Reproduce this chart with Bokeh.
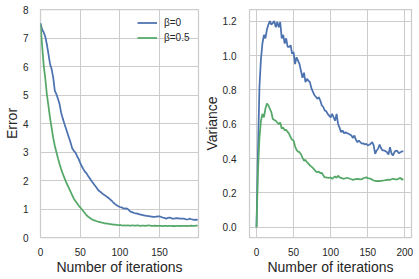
from bokeh.plotting import figure
from bokeh.layouts import row
from bokeh.models import Range1d, FixedTicker, PrintfTickFormatter
from bokeh.embed import file_html
from bokeh.resources import INLINE

iterations = list(range(0, 200, 2))

error_b0 = [7.52, 7.30, 7.20, 7.05, 6.78, 6.44, 6.09, 5.91, 5.62, 5.15,
            5.03, 4.87, 4.68, 4.38, 4.18, 4.00, 3.83, 3.66, 3.49, 3.32,
            3.12, 3.04, 2.98, 2.86, 2.76, 2.62, 2.50, 2.40, 2.31, 2.25,
            2.16, 2.08, 1.99, 1.92, 1.84, 1.77, 1.69, 1.63, 1.59, 1.54,
            1.50, 1.46, 1.42, 1.38, 1.33, 1.28, 1.22, 1.17, 1.13, 1.10,
            1.07, 1.06, 1.03, 1.01, 1.02, 1.00, 0.94, 0.90, 0.88, 0.86,
            0.85, 0.84, 0.82, 0.80, 0.79, 0.78, 0.77, 0.755, 0.75, 0.74,
            0.73, 0.72, 0.72, 0.73, 0.74, 0.74, 0.72, 0.70, 0.69, 0.66,
            0.68, 0.70, 0.69, 0.66, 0.66, 0.67, 0.68, 0.67, 0.66, 0.66,
            0.66, 0.65, 0.63, 0.64, 0.66, 0.64, 0.63, 0.62, 0.63, 0.62]

error_b05 = [7.50, 6.75, 6.05, 5.58, 5.03, 4.62, 4.20, 3.85, 3.50, 3.22,
             3.00, 2.78, 2.58, 2.40, 2.24, 2.10, 1.96, 1.84, 1.72, 1.60,
             1.48, 1.36, 1.28, 1.20, 1.12, 1.06, 0.99, 0.92, 0.85, 0.78,
             0.73, 0.69, 0.65, 0.62, 0.60, 0.58, 0.56, 0.55, 0.53, 0.52,
             0.50, 0.50, 0.49, 0.48, 0.47, 0.46, 0.45, 0.45, 0.44, 0.43,
             0.44, 0.43, 0.42, 0.43, 0.42, 0.43, 0.42, 0.42, 0.43, 0.42,
             0.42, 0.43, 0.42, 0.41, 0.42, 0.42, 0.41, 0.42, 0.43, 0.42,
             0.41, 0.41, 0.42, 0.41, 0.41, 0.41, 0.41, 0.40, 0.41, 0.41,
             0.40, 0.41, 0.41, 0.40, 0.41, 0.40, 0.41, 0.41, 0.40, 0.41,
             0.41, 0.41, 0.40, 0.41, 0.41, 0.42, 0.41, 0.41, 0.42, 0.42]

var_b0 = [0.0, 0.45, 0.82, 0.98, 1.07, 1.12, 1.10, 1.15, 1.18, 1.20,
          1.18, 1.19, 1.20, 1.165, 1.195, 1.165, 1.195, 1.10, 1.12, 1.07,
          1.10, 1.05, 1.05, 1.06, 1.01, 1.02, 0.95, 0.99, 0.97, 0.95,
          0.91, 0.87, 0.90, 0.845, 0.864, 0.854, 0.845, 0.81, 0.79, 0.77,
          0.76, 0.748, 0.757, 0.738, 0.71, 0.70, 0.68, 0.675, 0.66, 0.65,
          0.64, 0.66, 0.64, 0.62, 0.66, 0.60, 0.58, 0.553, 0.563, 0.547,
          0.553, 0.548, 0.544, 0.54, 0.534, 0.52, 0.534, 0.51, 0.495, 0.505,
          0.495, 0.486, 0.489, 0.482, 0.486, 0.476, 0.48, 0.486, 0.495, 0.476,
          0.427, 0.447, 0.457, 0.482, 0.46, 0.447, 0.447, 0.443, 0.437, 0.423,
          0.466, 0.43, 0.418, 0.437, 0.447, 0.443, 0.431, 0.437, 0.441, 0.441]

var_b05 = [0.0, 0.33, 0.52, 0.62, 0.66, 0.64, 0.69, 0.72, 0.71, 0.69,
           0.67, 0.63, 0.625, 0.62, 0.61, 0.60, 0.61, 0.575, 0.58, 0.565,
           0.567, 0.555, 0.544, 0.524, 0.509, 0.505, 0.47, 0.45, 0.44, 0.437,
           0.425, 0.405, 0.388, 0.392, 0.379, 0.37, 0.36, 0.353, 0.345, 0.335,
           0.325, 0.32, 0.324, 0.315, 0.317, 0.302, 0.29, 0.29, 0.288, 0.288,
           0.29, 0.282, 0.29, 0.295, 0.288, 0.30, 0.29, 0.287, 0.284, 0.282,
           0.285, 0.288, 0.285, 0.282, 0.279, 0.276, 0.278, 0.28, 0.282, 0.28,
           0.278, 0.28, 0.285, 0.288, 0.29, 0.286, 0.284, 0.282, 0.276, 0.272,
           0.27, 0.268, 0.27, 0.268, 0.27, 0.271, 0.272, 0.274, 0.276, 0.277,
           0.276, 0.279, 0.282, 0.28, 0.278, 0.278, 0.283, 0.288, 0.276, 0.282]

labels = ["β=0", "β=0.5"]
colors = ["#4C72B0", "#55A868"]

left_xticks = [0, 50, 100, 150]
left_yticks = [0, 1, 2, 3, 4, 5, 6, 7, 8]
right_xticks = [0, 50, 100, 150, 200]
right_yticks = [0.0, 0.2, 0.4, 0.6, 0.8, 1.0, 1.2]

FONT = "Liberation Sans"
GRID = "#cccccc"
TXT = "#262626"


def style(p, xticks, yticks, xlabel, ylabel, ystand, lstand):
    p.outline_line_color = GRID
    p.outline_line_width = 1.25
    p.background_fill_color = "white"
    p.border_fill_color = "white"
    for ax in (p.xaxis[0], p.yaxis[0]):
        ax.axis_line_color = None
        ax.major_tick_line_color = None
        ax.minor_tick_line_color = None
        ax.major_label_text_font = FONT
        ax.major_label_text_font_size = "10px"
        ax.major_label_text_color = TXT
        ax.axis_label_text_font = FONT
        ax.axis_label_text_font_size = "14px"
        ax.axis_label_text_font_style = "normal"
        ax.axis_label_text_color = TXT
    p.xaxis[0].ticker = FixedTicker(ticks=xticks)
    p.yaxis[0].ticker = FixedTicker(ticks=yticks)
    p.xaxis[0].axis_label = xlabel
    p.yaxis[0].axis_label = ylabel
    p.xaxis[0].major_label_standoff = 4
    p.xaxis[0].axis_label_standoff = 0
    p.yaxis[0].major_label_standoff = ystand
    p.yaxis[0].axis_label_standoff = lstand
    p.xgrid.grid_line_color = GRID
    p.ygrid.grid_line_color = GRID
    p.xgrid.grid_line_width = 1
    p.ygrid.grid_line_width = 1


p1 = figure(width=200, height=279, output_backend="svg", toolbar_location=None,
            x_range=Range1d(0, 199), y_range=Range1d(0, 8),
            min_border_left=38, min_border_right=2, min_border_top=9, min_border_bottom=42)
style(p1, left_xticks, left_yticks, "Number of iterations", "Error", 6, 0)
p1.line(iterations, error_b0, line_color=colors[0], line_width=1.75, legend_label=labels[0])
p1.line(iterations, error_b05, line_color=colors[1], line_width=1.75, legend_label=labels[1])
lg = p1.legend[0]
lg.location = "top_right"
lg.border_line_alpha = 0
lg.background_fill_alpha = 0
lg.margin = 2
lg.padding = 4
lg.spacing = 0
lg.glyph_width = 20
lg.glyph_height = 15
lg.label_height = 15
lg.label_width = 28
lg.label_standoff = 7
lg.label_text_font = FONT
lg.label_text_font_size = "10px"
lg.label_text_color = TXT

p2 = figure(width=219, height=279, output_backend="svg", toolbar_location=None,
            x_range=Range1d(-9.44, 209.0), y_range=Range1d(-0.06, 1.268),
            min_border_left=49, min_border_right=8, min_border_top=9, min_border_bottom=42)
style(p2, right_xticks, right_yticks, "Number of iterations", "Variance", 7, 0)
p2.yaxis[0].formatter = PrintfTickFormatter(format="%.1f")
p2.line(iterations, var_b0, line_color=colors[0], line_width=1.75)
p2.line(iterations, var_b05, line_color=colors[1], line_width=1.75)

layout = row(p1, p2)
open("out.html", "w").write(file_html(layout, INLINE))
